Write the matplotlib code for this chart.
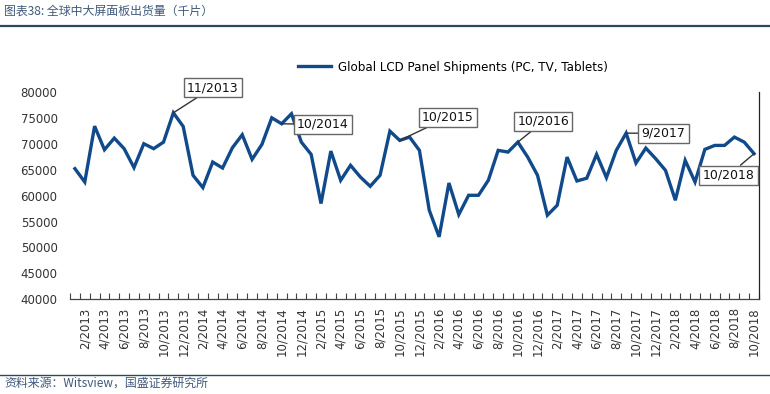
import matplotlib
matplotlib.use("Agg")
import matplotlib.pyplot as plt
from matplotlib.lines import Line2D

plt.rcParams['font.family'] = ['DejaVu Sans', 'Noto Sans CJK SC']

# ---- data (thousand pieces), monthly 1/2013 .. 10/2018 ----
years = [2013]*12 + [2014]*12 + [2015]*12 + [2016]*12 + [2017]*12 + [2018]*10
months = list(range(1, 13))*5 + list(range(1, 11))
shipments = [
    65250, 62660, 73480, 68920, 71160, 69120, 65450, 70080, 69120, 70390, 76070, 73420,
    63960, 61580, 66530, 65370, 69300, 71820, 67050, 69950, 75100, 73940, 75880, 70400,
    68010, 58490, 68650, 62990, 65890, 63630, 61830, 63960, 72520, 70720, 71370, 68790,
    57190, 52040, 62470, 56360, 60090, 60090, 62990, 68790, 68460, 70390, 67490, 63960,
    56230, 58160, 67490, 62860, 63400, 68010, 63510, 68790, 72130, 66330, 69230, 67180,
    64920, 59130, 66850, 62660, 68980, 69750, 69750, 71360, 70390, 68150,
]
labels = [f"{m}/{y}" for m, y in zip(months, years)]
series_name = "Global LCD Panel Shipments (PC, TV, Tablets)"
y_ticks = list(range(40000, 80001, 5000))

# callouts: (label, box centre x-index, box centre value)
callouts = [
    ("11/2013", 14.0, 80960),
    ("10/2014", 25.2, 73810),
    ("10/2015", 37.9, 75160),
    ("10/2016", 47.6, 74390),
    ("9/2017", 59.8, 72070),
    ("10/2018", 66.4, 63960),
]

W, H = 770, 394
fig = plt.figure(figsize=(W/100, H/100), dpi=100)
ax = fig.add_axes([70/W, 1-299/H, (759-70)/W, (299-92.5)/H])

line_color = '#114a8b'
x = list(range(len(shipments)))
ax.plot(x, shipments, color=line_color, lw=2.4, solid_joinstyle='miter', zorder=2)

ax.set_xlim(-0.5, len(shipments)-0.5)
ax.set_ylim(40000, 80000)
ax.set_yticks(y_ticks)
ax.set_yticklabels([str(v) for v in y_ticks], fontsize=8.5, color='#333333')
ax.tick_params(axis='y', length=0, pad=9)

ax.set_xticks(x[1::2])
ax.set_xticklabels(labels[1::2], rotation=90, fontsize=8.5, color='#333333')
ax.set_xticks([i-0.5 for i in range(len(shipments)+1)], minor=True)
ax.tick_params(axis='x', which='major', length=0, pad=6)
ax.tick_params(axis='x', which='minor', length=4, direction='in', color='#444444', width=0.8)

for s in ['top', 'left']:
    ax.spines[s].set_visible(False)
ax.spines['bottom'].set_color('#444444')
ax.spines['bottom'].set_linewidth(0.9)
ax.spines['right'].set_color('#222222')
ax.spines['right'].set_linewidth(0.9)

# callouts
for lab, bx, by in callouts:
    idx = labels.index(lab)
    ax.annotate(lab, xy=(idx, shipments[idx]), xytext=(bx, by),
                textcoords='data', ha='center', va='center', fontsize=9, color='#111111',
                bbox=dict(boxstyle='square,pad=0.25', fc='white', ec='#666666', lw=1.0),
                arrowprops=dict(arrowstyle='-', color='#333333', lw=1.0, shrinkA=0, shrinkB=0),
                annotation_clip=False, zorder=5)

# legend
handle = Line2D([], [], color=line_color, lw=2.4)
fig.legend([handle], [series_name], loc='center', bbox_to_anchor=(453/W, 1-67/H),
           frameon=False, fontsize=8.6, handlelength=2.8, handletextpad=0.6)

# title and source
fig.text(4/W, 1-11/H, "图表38: 全球中大屏面板出货量（千片）", fontsize=8.6, color='#41597a',
         family=['Noto Sans CJK SC', 'DejaVu Sans'], va='center', ha='left', style='italic')
fig.text(4/W, 1-383/H, "资料来源：Witsview，国盛证券研究所", fontsize=8.6, color='#41597a',
         family=['Noto Sans CJK SC', 'DejaVu Sans'], va='center', ha='left', style='italic')
fig.add_artist(Line2D([0, 1], [1-26/H, 1-26/H], color='#2c4a5a', lw=1.6, transform=fig.transFigure))
fig.add_artist(Line2D([0, 1], [1-375/H, 1-375/H], color='#2c4a5a', lw=1.0, transform=fig.transFigure))

fig.savefig('out.png', dpi=100)
